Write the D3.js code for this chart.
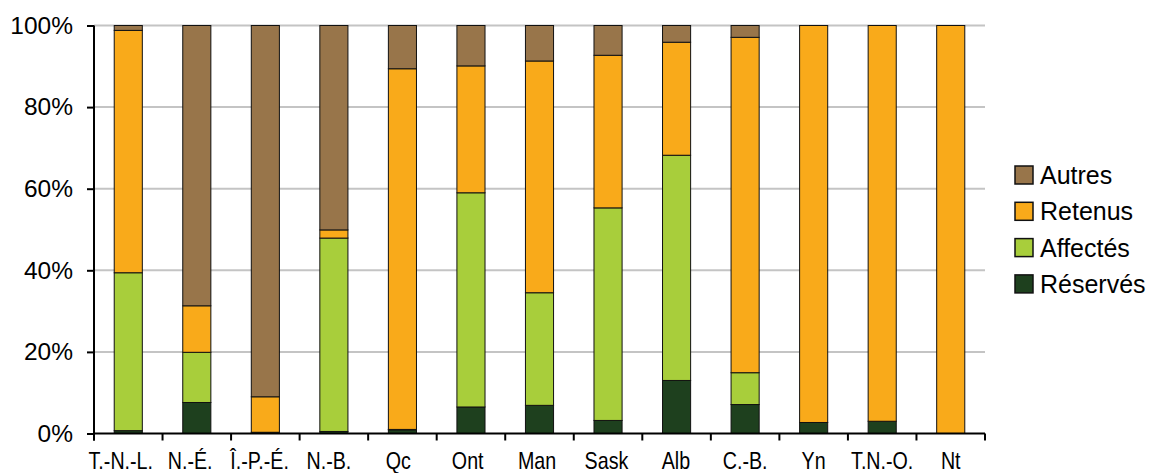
<!DOCTYPE html>
<html>
<head>
<meta charset="utf-8">
<script src="https://cdn.jsdelivr.net/npm/d3@7"></script>
<style>
  body { margin: 0; background: #fff; }
  text { font-family: "Liberation Sans", Arial, sans-serif; fill: #000; }
</style>
</head>
<body>
<div id="chart"></div>
<script>
const categories = ["T.-N.-L.", "N.-É.", "Î.-P.-É.", "N.-B.", "Qc", "Ont", "Man", "Sask", "Alb", "C.-B.", "Yn", "T.N.-O.", "Nt"];

// shares in %, bottom to top
const reserves = [0.7, 7.6, 0.0, 0.5, 0.9, 6.5, 6.9, 3.2, 13.0, 7.1, 2.7, 3.0, 0.0];
const affectes = [38.7, 12.3, 0.3, 47.4, 0.1, 52.5, 27.6, 52.1, 55.2, 7.8, 0.0, 0.0, 0.0];
const retenus  = [59.4, 11.4, 8.7, 2.0, 88.4, 31.1, 56.8, 37.4, 27.7, 82.2, 97.3, 97.0, 100.0];
const autres   = [1.2, 68.7, 91.0, 50.1, 10.6, 9.9, 8.7, 7.3, 4.1, 2.9, 0.0, 0.0, 0.0];

const seriesNames = ["Réservés", "Affectés", "Retenus", "Autres"];
const seriesColors = ["#1e401e", "#a8ce3b", "#f9aa1a", "#98754a"];
const yTicks = [0, 20, 40, 60, 80, 100];

const table = categories.map((c, i) => ({
  cat: c,
  "Réservés": reserves[i],
  "Affectés": affectes[i],
  "Retenus": retenus[i],
  "Autres": autres[i]
}));

const W = 1151, H = 473;
const margin = {top: 25.5, left: 94, right: 166, bottom: 39.5};
const width = W - margin.left - margin.right,
      height = H - margin.top - margin.bottom;

const svg = d3.select("#chart").append("svg")
    .attr("width", W)
    .attr("height", H)
  .append("g")
    .attr("transform", `translate(${margin.left},${margin.top})`);

const x = d3.scaleBand()
  .domain(categories)
  .range([0, width])
  .paddingInner(0.59)
  .paddingOuter(0.295);

const y = d3.scaleLinear()
  .domain([0, 100])
  .range([height, 0]);

const color = d3.scaleOrdinal().domain(seriesNames).range(seriesColors);

// gridlines
svg.append("g")
  .selectAll("line")
  .data(yTicks.filter(d => d > 0))
  .join("line")
    .attr("x1", 0)
    .attr("x2", width)
    .attr("y1", d => y(d))
    .attr("y2", d => y(d))
    .attr("stroke", "#c4c4c4")
    .attr("stroke-width", 2);

// bars
const stacked = d3.stack().keys(seriesNames)(table);

svg.append("g")
  .selectAll("g")
  .data(stacked)
  .join("g")
    .attr("fill", d => color(d.key))
  .selectAll("rect")
  .data(d => d.filter(s => s[1] - s[0] > 0))
  .join("rect")
    .attr("x", d => x(d.data.cat))
    .attr("y", d => y(d[1]))
    .attr("width", x.bandwidth())
    .attr("height", d => y(d[0]) - y(d[1]))
    .attr("stroke", "#111")
    .attr("stroke-width", 1);

// y axis
const yAxis = svg.append("g")
  .call(d3.axisLeft(y)
    .tickValues(yTicks)
    .tickSize(7)
    .tickPadding(14)
    .tickFormat(d => d + "%"));
yAxis.select(".domain").remove();
yAxis.selectAll(".tick line").attr("stroke", "#000").attr("stroke-width", 2);
yAxis.selectAll("text")
  .style("font-size", "24.5px")
  .attr("font-family", null);

svg.append("line")
  .attr("x1", 0).attr("x2", 0)
  .attr("y1", 0).attr("y2", height + 7)
  .attr("stroke", "#000")
  .attr("stroke-width", 2);

// x axis
const xAxis = svg.append("g")
  .attr("transform", `translate(0,${height})`)
  .call(d3.axisBottom(x).tickSize(0).tickPadding(18));
xAxis.select(".domain").remove();
xAxis.selectAll("text")
  .style("font-size", "24px")
  .attr("font-family", null)
  .attr("transform", (d, i) => `translate(${-Math.max(0, 7.5 - i * 0.85)},0) scale(0.82,1)`);

svg.append("line")
  .attr("x1", 0).attr("x2", width)
  .attr("y1", height).attr("y2", height)
  .attr("stroke", "#000")
  .attr("stroke-width", 2);

svg.append("g")
  .selectAll("line")
  .data(d3.range(categories.length + 1))
  .join("line")
    .attr("x1", i => i * x.step())
    .attr("x2", i => i * x.step())
    .attr("y1", height)
    .attr("y2", height + 7)
    .attr("stroke", "#000")
    .attr("stroke-width", 2);

// legend
const legend = svg.append("g")
  .attr("transform", `translate(${width + 30},${166 - margin.top})`)
  .selectAll("g")
  .data(seriesNames.slice().reverse())
  .join("g")
    .attr("transform", (d, i) => `translate(0,${i * 36.3})`);

legend.append("rect")
  .attr("width", 18)
  .attr("height", 18)
  .attr("fill", d => color(d))
  .attr("stroke", "#111")
  .attr("stroke-width", 1.5);

legend.append("text")
  .attr("x", 25)
  .attr("y", 9)
  .attr("dy", "0.36em")
  .style("font-size", "25px")
  .text(d => d);
</script>
</body>
</html>
